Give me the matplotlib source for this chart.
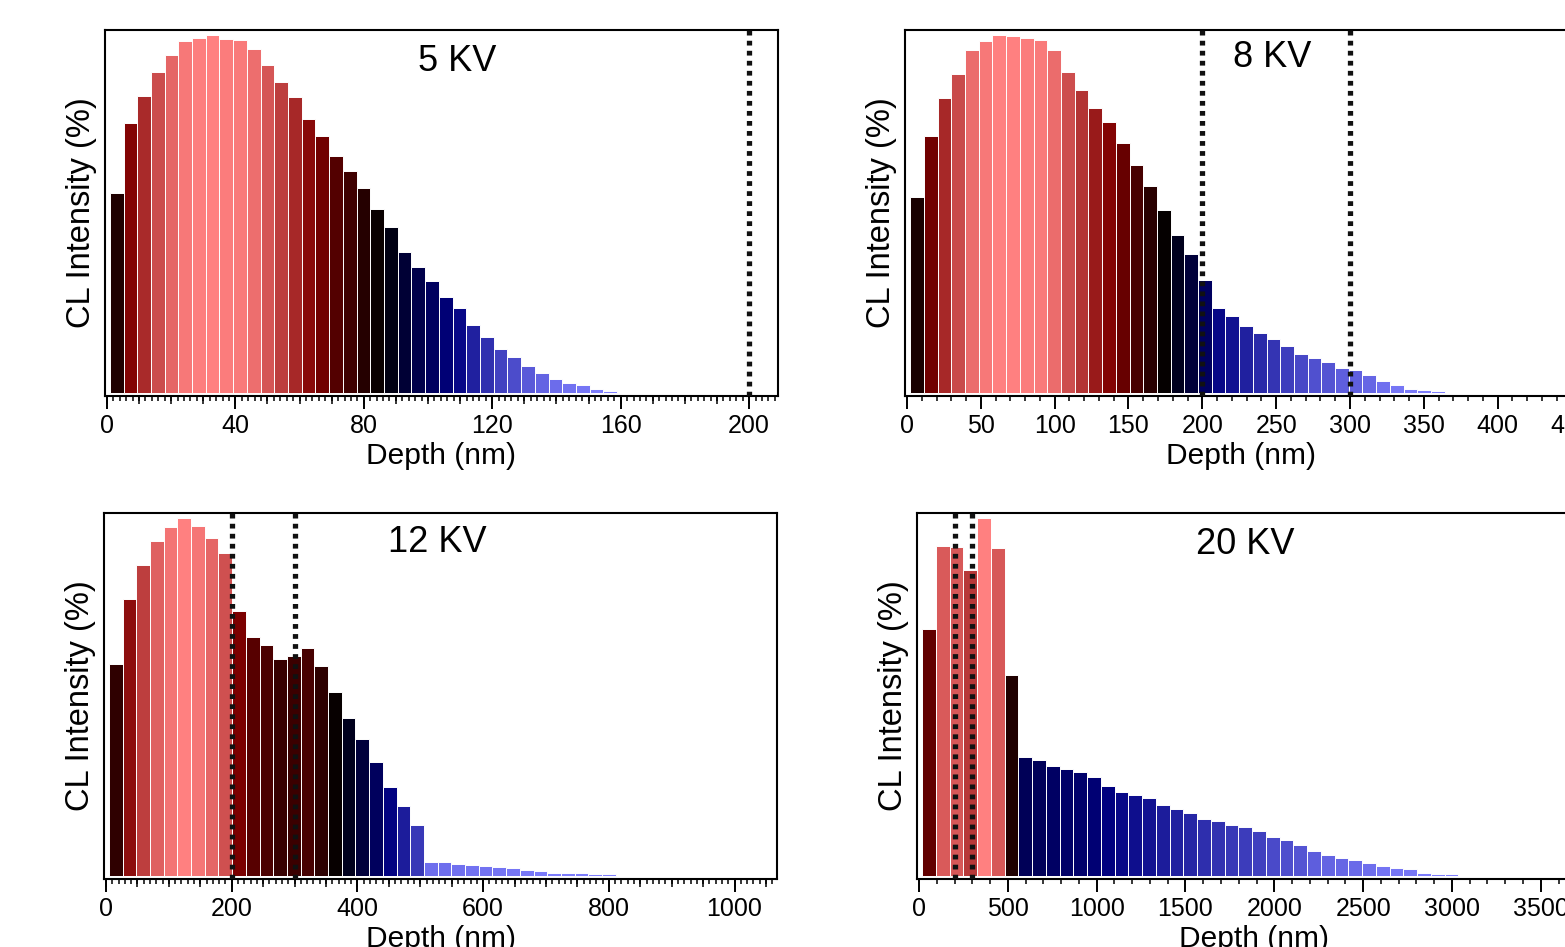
import numpy as np
import matplotlib.pyplot as plt
from matplotlib.colors import LinearSegmentedColormap
from matplotlib.ticker import MultipleLocator

plt.rcParams['font.family'] = ['Liberation Sans', 'DejaVu Sans']

# CL intensity per depth bin, normalised to the peak of each profile (%)
kv5 = [55.9, 75.4, 83.1, 89.7, 94.6, 98.3, 99.4, 100.0, 99.0, 98.6,
       96.2, 91.6, 87.0, 82.7, 76.6, 72.0, 66.3, 62.2, 57.2, 51.6,
       46.4, 39.5, 35.2, 31.3, 27.0, 23.7, 19.0, 15.7, 12.2, 10.2,
       7.7, 5.5, 4.0, 2.8, 2.2, 1.1, 0.7]
kv8 = [54.9, 72.0, 82.6, 89.1, 96.0, 98.3, 100.0, 99.8, 99.2, 98.6,
       95.8, 89.9, 84.8, 79.8, 75.7, 70.0, 63.7, 58.0, 51.1, 44.3,
       38.8, 31.5, 23.7, 21.7, 18.8, 16.9, 15.2, 13.1, 11.0, 9.7,
       8.6, 6.9, 6.4, 5.2, 3.4, 2.2, 1.2, 0.8, 0.5]
kv12 = [59.2, 77.5, 87.0, 93.6, 97.6, 100.0, 97.8, 94.6, 90.4, 74.1,
        66.8, 64.5, 60.8, 61.5, 63.8, 58.6, 51.4, 44.3, 38.4, 31.9,
        24.9, 19.7, 14.4, 3.9, 3.9, 3.5, 3.1, 2.9, 2.5, 2.2,
        1.6, 1.3, 0.9, 0.9, 0.9, 0.6, 0.6]
kv20 = [69.2, 92.3, 92.0, 85.6, 100.0, 91.8, 56.2, 33.2, 32.5, 30.8,
        30.0, 29.2, 27.7, 25.2, 23.5, 22.6, 21.8, 19.9, 18.8, 17.6,
        16.1, 15.3, 14.4, 13.6, 12.6, 10.8, 10.0, 8.8, 7.0, 5.8,
        5.2, 4.5, 3.7, 2.7, 2.2, 2.0, 1.0, 0.6, 0.5]

# first bin edge and bin width (nm)
bins5 = (0.9, 4.27)
bins8 = (2.2, 9.28)
bins12 = (4.5, 21.8)
bins20 = (17.0, 77.4)

# layer interfaces (nm)
marks5 = [200]
marks8 = [200, 300]
marks12 = [200, 300]
marks20 = [200, 300]

labels = ['5 KV', '8 KV', '12 KV', '20 KV']

# light blue -> navy -> black -> maroon -> salmon
cmap = LinearSegmentedColormap.from_list(
    'cl', [(0.0, '#8080ff'), (0.25, '#000080'), (0.5, '#000000'),
           (0.75, '#800000'), (1.0, '#ff8080')])

W, H = 1565, 947
fig = plt.figure(figsize=(W / 100, H / 100), dpi=100)


def add_panel(left, top, vals, bins, marks, label, xlim, major, mid, minor, label_pos):
    ax = fig.add_axes([left / W, 1 - (top + 366) / H, 673 / W, 366 / H])
    vals = np.array(vals)
    start, width = bins
    edges = start + width * np.arange(len(vals))
    ax.bar(edges, vals, width=width, align='edge', color=cmap(vals / 100),
           edgecolor='white', linewidth=0.7, zorder=2)
    for m in marks:
        ax.axvline(m, color='#111111', lw=3.8, linestyle=(0, (0.9, 1.0)),
                   dash_capstyle='butt', zorder=3)
    ax.set_xlim(*xlim)
    ax.set_ylim(-0.8, 101.5)
    ax.set_yticks([])
    ax.xaxis.set_major_locator(MultipleLocator(major))
    ax.xaxis.set_minor_locator(MultipleLocator(minor))
    ax.tick_params(axis='x', which='major', direction='out', length=9, width=1.4,
                   labelsize=18, pad=4)
    ax.tick_params(axis='x', which='minor', direction='out', length=3.5, width=1.1)
    if mid:
        sec = ax.secondary_xaxis('bottom')
        sec.xaxis.set_major_locator(MultipleLocator(mid))
        sec.tick_params(direction='out', length=6, width=1.1, labelbottom=False)
        sec.spines['bottom'].set_visible(False)
    for s in ax.spines.values():
        s.set_linewidth(1.5)
    ax.set_xlabel('Depth (nm)', fontsize=21.5, labelpad=3)
    ax.set_ylabel('CL Intensity (%)', fontsize=23.5, labelpad=6)
    ax.text(label_pos[0], label_pos[1], label, transform=ax.transAxes,
            fontsize=26, ha='center', va='center')
    return ax


add_panel(105, 30, kv5, bins5, marks5, labels[0], (-0.6, 209.0), 40, 10, 2, (0.523, 0.915))
add_panel(905, 30, kv8, bins8, marks8, labels[1], (-1.35, 454.4), 50, None, 10, (0.545, 0.925))
add_panel(104, 513, kv12, bins12, marks12, labels[2], (-3.2, 1067.6), 200, 50, 10, (0.495, 0.92))
add_panel(917, 513, kv20, bins20, marks20, labels[3], (-11.3, 3777), 500, None, 100, (0.487, 0.915))

fig.savefig('out.png', dpi=100)
